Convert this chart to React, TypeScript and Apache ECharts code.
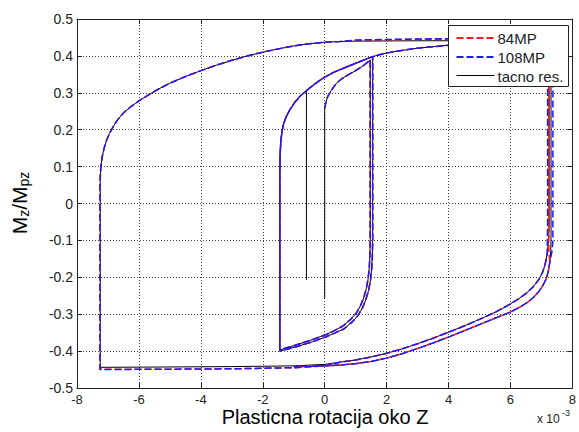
import React, { useEffect, useRef } from "react";
import * as echarts from "echarts";

// x values in units of 1e-3 (axis shows "x 10^-3")
const X_MIN = -8;
const X_MAX = 8;
const X_STEP = 2;
const Y_MIN = -0.5;
const Y_MAX = 0.5;
const Y_STEP = 0.1;

const SERIES_NAMES = ["84MP", "108MP", "tacno res."];
const SERIES_COLORS = ["#ff1a1a", "#1a1aff", "#000000"];

// ---- shared branches (all three results coincide here) ----
const firstElastic: number[][] = [[0.0, -0.257], [0.0, 0.258]];
const firstLoading: number[][] = [
  [0.0, 0.258], [0.04, 0.275], [0.1, 0.29], [0.2, 0.305], [0.38, 0.326], [0.55, 0.338], [0.7, 0.346], [1.0, 0.36], [1.24, 0.373], [1.47, 0.389],
];
const innerDownA: number[][] = [
  [1.47, 0.389], [1.47, -0.1], [1.46, -0.14], [1.44, -0.175], [1.4, -0.205], [1.34, -0.232], [1.26, -0.256], [1.15, -0.278], [1.02, -0.297], [0.85, -0.313], [0.59, -0.332], [0.3, -0.345], [0.05, -0.355], [-0.4, -0.369], [-0.91, -0.383], [-1.45, -0.397],
];
const innerUp: number[][] = [
  [-1.45, -0.397], [-1.45, 0.08], [-1.44, 0.13], [-1.42, 0.165], [-1.38, 0.195], [-1.32, 0.218], [-1.24, 0.236], [-1.12, 0.255], [-0.95, 0.276], [-0.78, 0.292], [-0.59, 0.306], [-0.35, 0.322], [-0.05, 0.34], [0.3, 0.356], [0.59, 0.366], [1.0, 0.38], [1.3, 0.39], [1.55, 0.398],
];
const innerDownB: number[][] = [
  [1.55, 0.398], [1.55, -0.1], [1.54, -0.14], [1.52, -0.175], [1.48, -0.207], [1.42, -0.235], [1.33, -0.26], [1.22, -0.283], [1.08, -0.303], [0.9, -0.32], [0.62, -0.34], [0.3, -0.352], [0.05, -0.361], [-0.4, -0.375], [-0.91, -0.388], [-1.45, -0.4],
];
const outerTopLow: number[][] = [
  [1.55, 0.398], [1.8, 0.404], [2.2, 0.411], [2.6, 0.416], [3.0, 0.421], [3.5, 0.425], [4.0, 0.429], [5.0, 0.434], [6.0, 0.437], [7.0, 0.439],
];
const outerDown1Curve: number[][] = [
  [7.19, -0.135], [7.12, -0.165], [7.03, -0.188], [6.9, -0.208], [6.72, -0.227], [6.5, -0.244], [6.25, -0.259], [6.0, -0.272], [5.75, -0.284], [5.5, -0.295], [5.0, -0.314], [4.5, -0.332], [4.0, -0.349], [3.5, -0.365], [3.0, -0.38], [2.5, -0.394], [2.0, -0.406], [1.5, -0.416], [1.0, -0.424], [0.5, -0.43],
];
const outerTopLeft: number[][] = [
  [-7.23, 0.1], [-7.19, 0.125], [-7.13, 0.148], [-7.05, 0.17], [-6.95, 0.19], [-6.82, 0.21], [-6.66, 0.23], [-6.48, 0.247], [-6.25, 0.263], [-6.0, 0.278], [-5.7, 0.294], [-5.35, 0.311], [-5.0, 0.326], [-4.5, 0.344], [-4.0, 0.36], [-3.5, 0.375], [-3.0, 0.388], [-2.5, 0.4], [-2.0, 0.41], [-1.5, 0.419], [-1.0, 0.427], [-0.5, 0.433], [0.0, 0.437], [0.5, 0.439],
];
const outerDown2Curve: number[][] = [
  [7.27, -0.16], [7.22, -0.185], [7.15, -0.205], [7.05, -0.222], [6.92, -0.238], [6.75, -0.254], [6.55, -0.268], [6.3, -0.281], [6.0, -0.294], [5.5, -0.311], [5.0, -0.328], [4.5, -0.345], [4.0, -0.362], [3.5, -0.378], [3.0, -0.393], [2.5, -0.407], [2.0, -0.419], [1.5, -0.428], [1.0, -0.434], [0.5, -0.438], [0.0, -0.44], [-1.0, -0.442],
];

// ---- branches that differ per result ----
// tacno res. (black)
const blackDown1: number[][] = [[7.25, 0.44], [7.25, -0.06], [7.23, -0.1]];
const blackBottom: number[][] = [[0.0, -0.436], [-1.0, -0.44], [-3.0, -0.442], [-5.0, -0.443], [-7.25, -0.444], [-7.25, 0.06]];
const blackTop: number[][] = [[1.0, 0.44], [3.0, 0.441], [5.0, 0.441], [7.31, 0.441]];
const blackDown2: number[][] = [[7.31, 0.441], [7.31, -0.1], [7.3, -0.13]];
const blackStub: number[][] = [[-0.59, 0.305], [-0.59, -0.207]];

// 84MP (red dashed)
const redDown1: number[][] = [[7.22, 0.441], [7.22, -0.06], [7.21, -0.1]];
const redBottom: number[][] = [[0.0, -0.44], [-1.0, -0.445], [-3.0, -0.448], [-5.0, -0.449], [-7.25, -0.449], [-7.25, 0.06]];
const redTop: number[][] = [[1.0, 0.442], [3.0, 0.445], [5.0, 0.446], [7.24, 0.446]];
const redDown2: number[][] = [[7.24, 0.446], [7.24, -0.1], [7.24, -0.13]];

// 108MP (blue dashed)
const blueDown1: number[][] = [[7.2, 0.441], [7.2, -0.06], [7.19, -0.1]];
const blueBottom: number[][] = [[0.0, -0.44], [-1.0, -0.445], [-3.0, -0.448], [-5.0, -0.449], [-7.26, -0.45], [-7.26, 0.06]];
const blueTop: number[][] = [[1.0, 0.443], [3.0, 0.446], [5.0, 0.447], [7.37, 0.447]];
const blueDown2: number[][] = [[7.37, 0.447], [7.37, -0.1], [7.34, -0.13]];

const buildPath = (
  start: number[][],
  down1: number[][],
  bottom: number[][],
  top: number[][],
  down2: number[][]
) => [
  ...start,
  ...firstLoading,
  ...innerDownA,
  ...innerUp,
  ...innerDownB,
  ...innerUp,
  ...outerTopLow,
  ...down1,
  ...outerDown1Curve,
  ...bottom,
  ...outerTopLeft,
  ...top,
  ...down2,
  ...outerDown2Curve,
];

const FONT = "Liberation Sans, Arial, sans-serif";
const DASH = [7, 3];

// legend box layout (pixels)
const LEG_X = 448.5;
const LEG_Y = 25.5;
const LEG_W = 120;
const LEG_H = 61;
const LEG_ROW0 = 37.5;
const LEG_ROW_STEP = 19;

export default function App() {
  const ref = useRef<HTMLDivElement>(null);

  useEffect(() => {
    if (!ref.current) return;
    const chart = echarts.init(ref.current, null, { renderer: "svg" });

    const blackMain = buildPath(firstElastic, blackDown1, blackBottom, blackTop, blackDown2);
    const redPath = buildPath([], redDown1, redBottom, redTop, redDown2);
    const bluePath = buildPath([], blueDown1, blueBottom, blueTop, blueDown2);

    const fmtY = (v: number) => {
      const r = Math.round(v * 10) / 10;
      return r === 0 ? "0" : r.toFixed(1);
    };

    const axisCommon = {
      type: "value" as const,
      axisLine: { show: true, onZero: false, lineStyle: { color: "#222", width: 1 } },
      axisTick: { show: true, inside: true, length: 5, lineStyle: { color: "#222" } },
    };

    const lineSeries = (name: string, data: number[][], color: string, dashed: boolean, z: number) => ({
      type: "line",
      name,
      data,
      z,
      symbol: "none",
      showSymbol: false,
      smooth: false,
      clip: true,
      lineStyle: { color, width: dashed ? 1.5 : 1, type: dashed ? DASH : "solid" },
      itemStyle: { color },
      emphasis: { disabled: true },
    });

    const legendGraphics: any[] = [
      {
        type: "rect",
        z: 100,
        shape: { x: LEG_X, y: LEG_Y, width: LEG_W, height: LEG_H },
        style: { fill: "#fff", stroke: "#222", lineWidth: 1 },
      },
    ];
    SERIES_NAMES.forEach((name, i) => {
      const y = LEG_ROW0 + i * LEG_ROW_STEP;
      legendGraphics.push({
        type: "line",
        z: 101,
        shape: { x1: LEG_X + 8, y1: i < 2 ? y + 0.5 : y, x2: LEG_X + 46, y2: i < 2 ? y + 0.5 : y },
        style: { stroke: SERIES_COLORS[i], lineWidth: i < 2 ? 2 : 1, lineDash: i < 2 ? DASH : null },
      });
      legendGraphics.push({
        type: "text",
        z: 101,
        x: LEG_X + 49,
        y: y + 0.5,
        style: { text: name, fontSize: 15, fontFamily: FONT, fill: "#222", align: "left", verticalAlign: "middle" },
      });
    });

    chart.setOption({
      animation: false,
      backgroundColor: "#fff",
      textStyle: { fontFamily: FONT },
      grid: { left: 77, right: 6, top: 19, bottom: 44, containLabel: false },
      xAxis: [
        {
          ...axisCommon,
          position: "bottom",
          min: X_MIN,
          max: X_MAX,
          interval: X_STEP,
          axisLabel: { fontSize: 13, color: "#222", margin: 5, fontFamily: FONT },
          splitLine: { show: true, lineStyle: { color: "#444", width: 1, type: [1, 2] } },
        },
        {
          ...axisCommon,
          position: "top",
          min: X_MIN,
          max: X_MAX,
          interval: X_STEP,
          axisLabel: { show: false },
          splitLine: { show: false },
        },
      ],
      yAxis: [
        {
          ...axisCommon,
          position: "left",
          min: Y_MIN,
          max: Y_MAX,
          interval: Y_STEP,
          axisLabel: { fontSize: 14, color: "#222", margin: 4, fontFamily: FONT, formatter: fmtY },
          splitLine: { show: true, lineStyle: { color: "#444", width: 1, type: [1, 2] } },
        },
        {
          ...axisCommon,
          position: "right",
          min: Y_MIN,
          max: Y_MAX,
          interval: Y_STEP,
          axisLabel: { show: false },
          splitLine: { show: false },
        },
      ],
      series: [
        lineSeries(SERIES_NAMES[2], blackMain, SERIES_COLORS[2], false, 2),
        lineSeries(SERIES_NAMES[2], blackStub, SERIES_COLORS[2], false, 2),
        lineSeries(SERIES_NAMES[0], redPath, SERIES_COLORS[0], true, 3),
        lineSeries(SERIES_NAMES[1], bluePath, SERIES_COLORS[1], true, 4),
      ],
      graphic: [
        ...legendGraphics,
        {
          type: "text",
          x: 325,
          y: 417,
          style: {
            text: "Plasticna rotacija oko Z",
            fontSize: 20,
            fontFamily: FONT,
            fill: "#000",
            align: "center",
            verticalAlign: "middle",
          },
        },
        {
          type: "text",
          x: 537,
          y: 425,
          style: { text: "x 10", fontSize: 12, fontFamily: FONT, fill: "#222", align: "left", verticalAlign: "bottom" },
        },
        {
          type: "text",
          x: 562,
          y: 413,
          style: { text: "-3", fontSize: 9, fontFamily: FONT, fill: "#222", align: "left", verticalAlign: "middle" },
        },
        {
          type: "group",
          x: 19,
          y: 203,
          rotation: Math.PI / 2,
          children: [
            { type: "text", x: -31.3, y: 0, style: { text: "M", fontSize: 21, fontFamily: FONT, fill: "#000", align: "left", verticalAlign: "middle" } },
            { type: "text", x: -13.8, y: 5, style: { text: "z", fontSize: 14, fontFamily: FONT, fill: "#000", align: "left", verticalAlign: "middle" } },
            { type: "text", x: -6.8, y: 0, style: { text: "/M", fontSize: 21, fontFamily: FONT, fill: "#000", align: "left", verticalAlign: "middle" } },
            { type: "text", x: 16.5, y: 5, style: { text: "pz", fontSize: 14, fontFamily: FONT, fill: "#000", align: "left", verticalAlign: "middle" } },
          ],
        },
      ],
    });

    return () => chart.dispose();
  }, []);

  return (
    <div
      ref={ref}
      style={{ position: "fixed", left: 0, top: 0, width: 579, height: 432, background: "#fff" }}
    />
  );
}
